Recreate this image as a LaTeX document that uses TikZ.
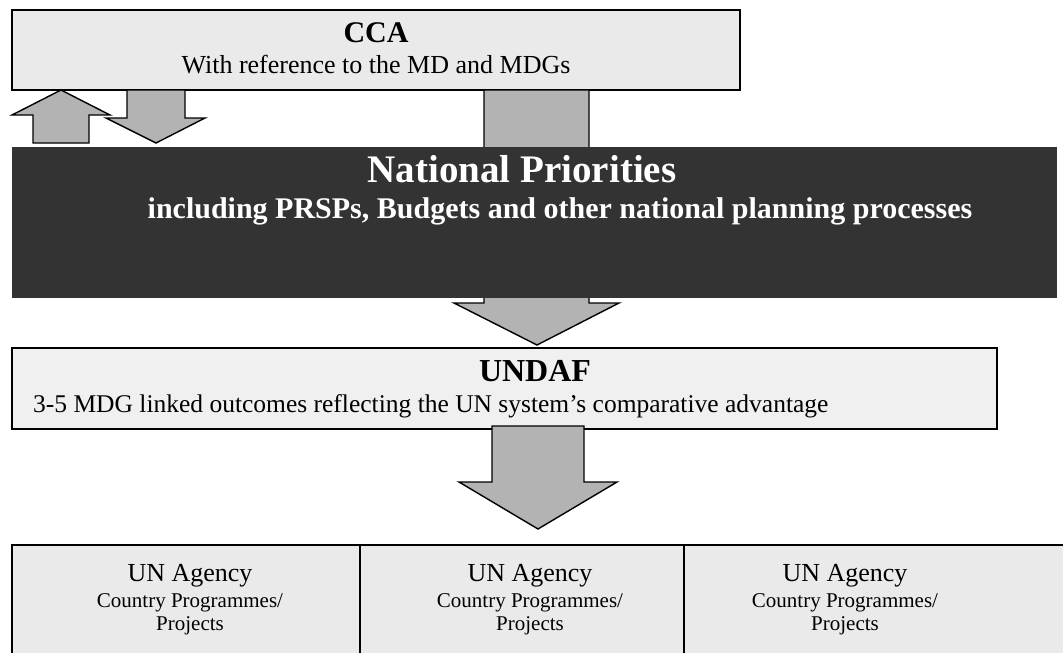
\documentclass[tikz,border=0pt]{standalone}
\usepackage{fontspec}
\setmainfont{Liberation Serif}
\definecolor{boxgrey}{HTML}{EAEAEA}
\definecolor{undafgrey}{HTML}{F0F0F0}
\definecolor{arrowgrey}{HTML}{B3B3B3}
\definecolor{darkbox}{HTML}{333333}
\tikzset{
  panel/.style={draw=black, line width=1.5pt},
  blockarrow/.style={draw=black, fill=arrowgrey, line width=1.4pt, line join=miter},
  txt/.style={anchor=base, inner sep=0pt},
}
\begin{document}
\begin{tikzpicture}[x=1pt,y=-1pt]
\useasboundingbox (0,0) rectangle (1063,653);
% CCA box
\path[panel, fill=boxgrey] (12,10) rectangle (740,90);
\node[txt, font=\bfseries\fontsize{30}{36}\selectfont] (cca) at (376,42) {CCA};
\node[txt, font=\fontsize{26}{31}\selectfont] (ccasub) at (376,73) {With reference to the MD and MDGs};
% up and down arrows at left
\path[blockarrow] (33,143) -- (33,115) -- (12,115) -- (61,90) -- (110,115) -- (89,115) -- (89,143) -- cycle;
\path[blockarrow] (127,90) -- (127,118) -- (106,118) -- (156,143) -- (205,118) -- (185,118) -- (185,90) -- cycle;
% central arrow
\path[blockarrow] (484,90) -- (484,303) -- (454,303) -- (537,345) -- (619,303) -- (589,303) -- (589,90) -- cycle;
% National priorities box
\path[fill=darkbox] (12,147) rectangle (1057,298);
\node[txt, text=white, font=\bfseries\fontsize{39}{46}\selectfont] (np) at (522,182) {National Priorities};
\node[txt, text=white, font=\bfseries\fontsize{30}{36}\selectfont] (npsub) at (560,218) {including PRSPs, Budgets and other national planning processes};
% UNDAF box
\path[panel, fill=undafgrey] (12,348) rectangle (997,429);
\node[txt, font=\bfseries\fontsize{32}{38}\selectfont] (undaf) at (535,381) {UNDAF};
\node[txt, anchor=base west, font=\fontsize{25.5}{31}\selectfont] (undafsub) at (33,412) {3-5 MDG linked outcomes reflecting the UN system’s comparative advantage};
% lower arrow
\path[blockarrow] (492,426) -- (492,482) -- (459,482) -- (538,529) -- (617,482) -- (584,482) -- (584,426) -- cycle;
% agency row
\path[fill=boxgrey] (12,545) rectangle (1063,653);
\draw[panel] (12,653) -- (12,545) -- (1063,545);
\draw[panel] (360,545) -- (360,653);
\draw[panel] (684,545) -- (684,653);
\foreach \cx/\nm in {190/a, 530/b, 845/c}{
  \node[txt, font=\fontsize{26}{31}\selectfont] (ag\nm) at (\cx,581) {UN Agency};
  \node[txt, font=\fontsize{21}{25}\selectfont] (cp\nm) at (\cx,607) {Country Programmes/};
  \node[txt, font=\fontsize{21}{25}\selectfont] (pr\nm) at (\cx,630) {Projects};
}
\end{tikzpicture}
\end{document}
